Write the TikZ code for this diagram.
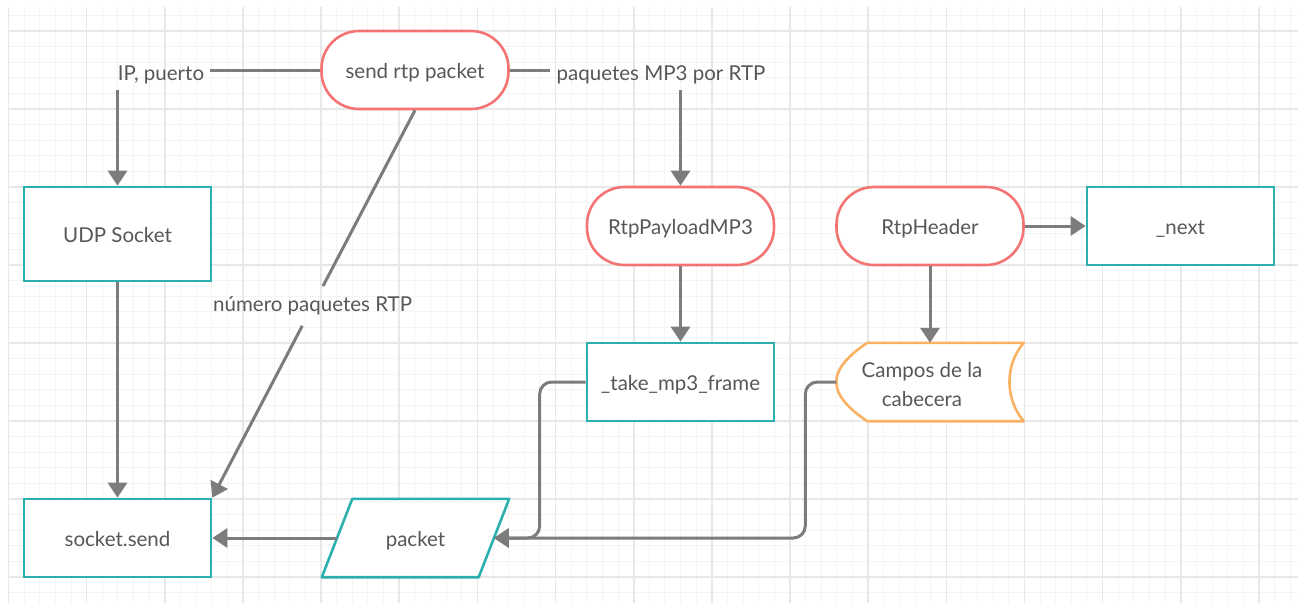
\documentclass[tikz,border=0pt]{standalone}
\usepackage{fontspec}
\setmainfont{Lato}
\usetikzlibrary{arrows.meta,calc}
\definecolor{cTeal}{HTML}{2BAFAF}
\definecolor{cRed}{HTML}{F47474}
\definecolor{cOrange}{HTML}{F9B163}
\definecolor{cLine}{HTML}{7C7C7C}
\definecolor{cText}{HTML}{575757}
\definecolor{cMinor}{HTML}{F4F4F4}
\definecolor{cMajor}{HTML}{E8E8E8}
\tikzset{
  base/.style={minimum width=187pt, minimum height=78pt, inner sep=0pt, text=cText, fill=white, line width=2.6pt, align=center, text height=17pt, text depth=0pt},
  procbox/.style={base, draw=cTeal},
  termbox/.style={base, draw=cRed, rounded corners=37.5pt},
  ghost/.style={minimum width=187pt, minimum height=78pt, inner sep=0pt},
  conn/.style={draw=cLine, line width=3pt, -{Triangle[length=15pt,width=19pt]}},
  plain/.style={draw=cLine, line width=3pt},
  lbl/.style={text=cText, inner xsep=6pt, inner ysep=5.5pt},
  minorgrid/.style={draw=cMinor, line width=1pt},
  majorgrid/.style={draw=cMajor, line width=1.6pt},
  shapeline/.style={line width=2.6pt, fill=white, line join=round}
}
\begin{document}
\begin{tikzpicture}[x=1pt,y=-1pt,font=\fontsize{20.5pt}{24pt}\selectfont]
\useasboundingbox (0,0) rectangle (1298,603);
\fill[white] (0,0) rectangle (1298,603);
% grid
\begin{scope}
\clip (8,7) rectangle (1298,603);
\foreach \i in {0,...,82} {\draw[minorgrid] ({8.5+15.63*\i},7) -- ({8.5+15.63*\i},603);}
\foreach \j in {0,...,37} {\draw[minorgrid] (8,{15.4+15.6*\j}) -- (1298,{15.4+15.6*\j});}
\foreach \i in {0,...,16} {\draw[majorgrid] ({8.5+78.15*\i},7) -- ({8.5+78.15*\i},603);}
\foreach \j in {0,...,7} {\draw[majorgrid] (8,{31+78*\j}) -- (1298,{31+78*\j});}
\end{scope}

% nodes
\node[termbox] (send) at (415,70) {send rtp packet};
\node[procbox, minimum height=94pt] (udp) at (117.5,234) {UDP Socket};
\node[termbox] (payload) at (680.5,226) {RtpPayloadMP3};
\node[termbox] (header) at (930,226) {RtpHeader};
\node[procbox] (next) at (1180.5,226) {\_next};
\node[procbox] (take) at (680.5,382) {\_take\_mp3\_frame};
\node[procbox] (socket) at (117.5,538) {socket.send};

% stored data shape
\node[ghost] (campos) at (930,382) {};
\draw[shapeline, draw=cOrange]
  ($(campos.north west)+(31,0)$) -- (campos.north east)
  .. controls ($(campos.north east)+(-19,22)$) and ($(campos.north east)+(-19,56)$) .. (campos.south east)
  -- ($(campos.south west)+(31,0)$)
  .. controls ($(campos.south west)+(13,-12)$) and ($(campos.west)+(0,14)$) .. (campos.west)
  .. controls ($(campos.west)+(0,-14)$) and ($(campos.north west)+(13,12)$) .. cycle;
\node[text=cText, align=center, font=\fontsize{20.5pt}{29pt}\selectfont] (camposText) at ($(campos.center)+(-8,3)$) {Campos de la\\cabecera};

% data (parallelogram)
\node[ghost] (packet) at (415.5,538) {};
\draw[shapeline, draw=cTeal]
  ($(packet.north west)+(30.5,0)$) -- (packet.north east)
  -- ($(packet.south east)+(-30.5,0)$) -- (packet.south west) -- cycle;
\node[text=cText, text height=17pt, text depth=0pt, inner sep=0pt] (packetText) at (packet.center) {packet};
\coordinate (packetE) at ($(packet.east)+(-15.25,0)$);
\coordinate (packetW) at ($(packet.west)+(15.25,0)$);

% connector labels
\node[lbl] (lblIP) at (161,75) {IP, puerto};
\node[lbl] (lblMP3) at (661,75) {paquetes MP3 por RTP};
\node[lbl, inner ysep=10.5pt] (lblNum) at ($(send.south)!0.505!(socket.north east)$) {número paquetes RTP};

% connectors
\draw[plain] (send.west) -- (send.west -| lblIP.east);
\draw[conn] (lblIP.south -| udp.north) -- (udp.north);
\draw[plain] (send.east) -- (send.east -| lblMP3.west);
\draw[conn] (lblMP3.south -| payload.north) -- (payload.north);
\draw[plain] (send.south) -- (lblNum);
\draw[conn] (lblNum) -- (socket.north east);
\draw[conn] (udp.south) -- (socket.north);
\draw[conn] (payload.south) -- (take.north);
\draw[conn] (header.south) -- (campos.north);
\draw[conn] (header.east) -- (next.west);
\draw[conn, rounded corners=12pt] (take.west) -- ++(-46,0) |- (packetE);
\draw[conn, rounded corners=12pt] (campos.west) -- ++(-31,0) |- (packetE);
\draw[conn] (packetW) -- (socket.east);
\end{tikzpicture}
\end{document}
